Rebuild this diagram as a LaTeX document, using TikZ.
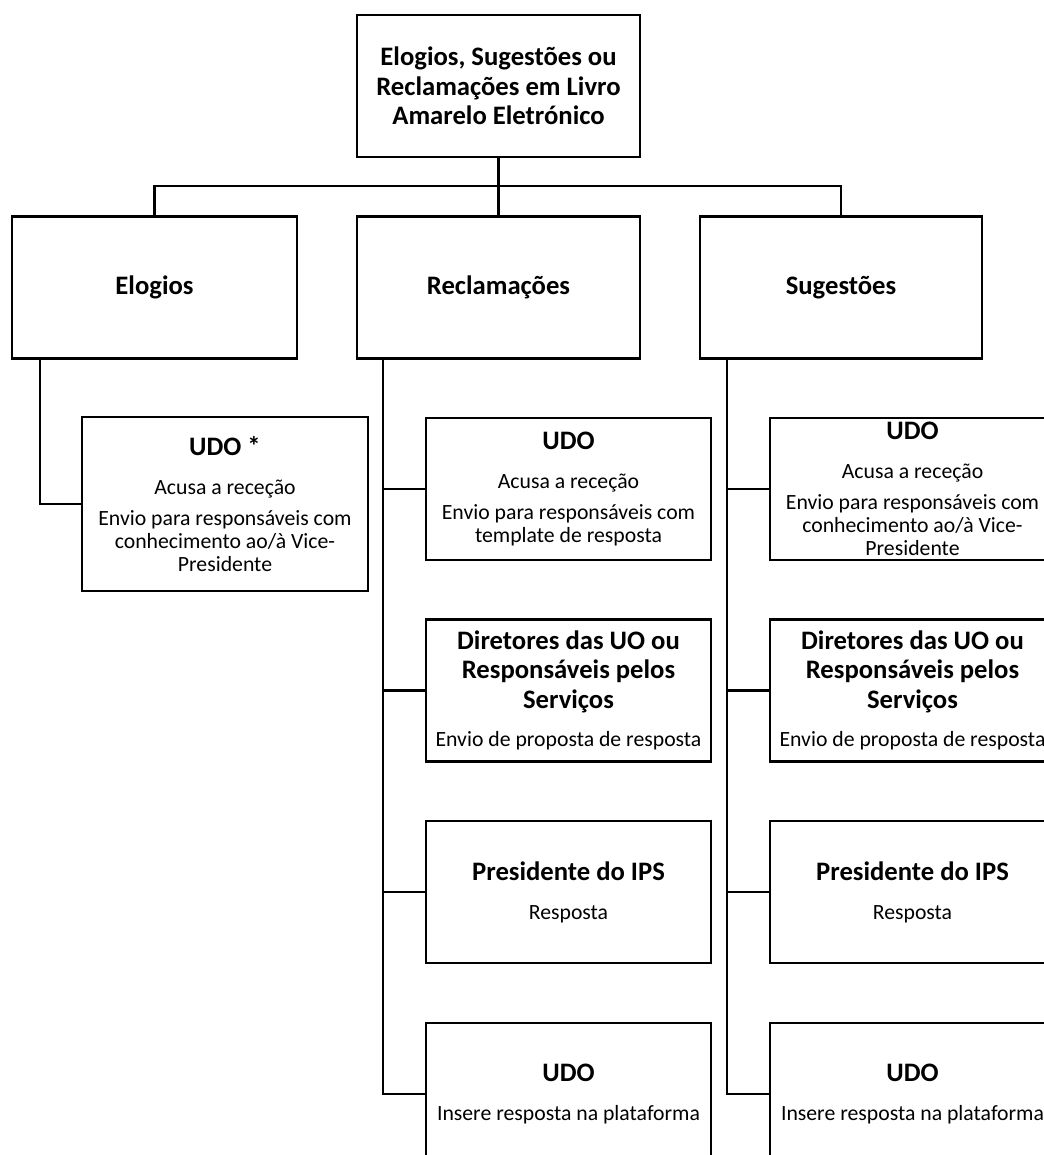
\documentclass[tikz,border=0pt]{standalone}
\usepackage{fontspec}
\setmainfont{Carlito}
\usepackage{tikz}
\usetikzlibrary{positioning,calc}
\setlength{\lineskiplimit}{-30pt}
\newcommand{\bodyfont}{\fontsize{16.3}{17.25}\selectfont}
\newcommand{\headfont}{\fontsize{20}{22}\selectfont\bfseries}
\newcommand{\boxhead}[1]{{\headfont #1}}

\begin{document}
\begin{tikzpicture}[x=0.75pt,y=-0.75pt,
    box/.style={draw,line width=1.6pt,align=center,inner sep=0pt,
        minimum width=213.75pt,minimum height=106.5pt,font=\bodyfont},
    link/.style={line width=1.6pt}]
    \useasboundingbox (0,0) rectangle (1044,1155);
    \clip (0,0) rectangle (1044,1155);
    % top and first level
    \node[box,minimum width=212pt,font=\headfont] (top) at (498.5,86) {Elogios, Sugestões ou\\Reclamações em Livro\\Amarelo Eletrónico};
    \node[box,font=\headfont] (elog) at (154.5,287.5) {Elogios};
    \node[box,minimum width=212pt,font=\headfont] (recl) at (498.5,287.5) {Reclamações};
    \node[box,minimum width=212pt,font=\headfont] (suge) at (841,287.5) {Sugestões};
    \draw[link] (top.south) -- (recl.north);
    \draw[link] (elog.north) -- ++(0,-29) -| (suge.north);
    % elogios
    \node[box,minimum width=214.5pt,minimum height=130.5pt] (udoE) at (225,504) {\boxhead{UDO *}\\[12pt]Acusa a receção\\[6pt]Envio para responsáveis com\\conhecimento ao/à Vice-\\Presidente};
    \draw[link] (elog.south west) ++(29,0) |- (udoE.west);
    % reclamacoes and sugestoes
    \foreach \col/\x in {r/568.5,s/912.5}{
        \node[box] (\col4) at (\x,1094) {\boxhead{UDO}\\[12pt]Insere resposta na plataforma};
        \node[box] (\col3) at (\x,892) {\boxhead{Presidente do IPS}\\[12pt]Resposta};
        \node[box] (\col2) at (\x,690.5) {\boxhead{Diretores das UO ou}\\[4.75pt]\boxhead{Responsáveis pelos}\\[4.75pt]\boxhead{Serviços}\\[11.5pt]Envio de proposta de resposta};
    }
    \node[box] (r1) at (568.5,489) {\boxhead{UDO}\\[12pt]Acusa a receção\\[6pt]Envio para responsáveis com\\template de resposta};
    \node[box] (s1) at (912.5,489) {\boxhead{UDO}\\[12pt]Acusa a receção\\[6pt]Envio para responsáveis com\\conhecimento ao/à Vice-\\Presidente};
    \draw[link] (recl.south west) ++(27,0) |- (r4.west);
    \draw[link] (suge.south west) ++(28,0) |- (s4.west);
    \foreach \i in {1,2,3}{
        \draw[link] (r\i.west) -- ++(-42,0);
        \draw[link] (s\i.west) -- ++(-43,0);
    }
\end{tikzpicture}
\end{document}
